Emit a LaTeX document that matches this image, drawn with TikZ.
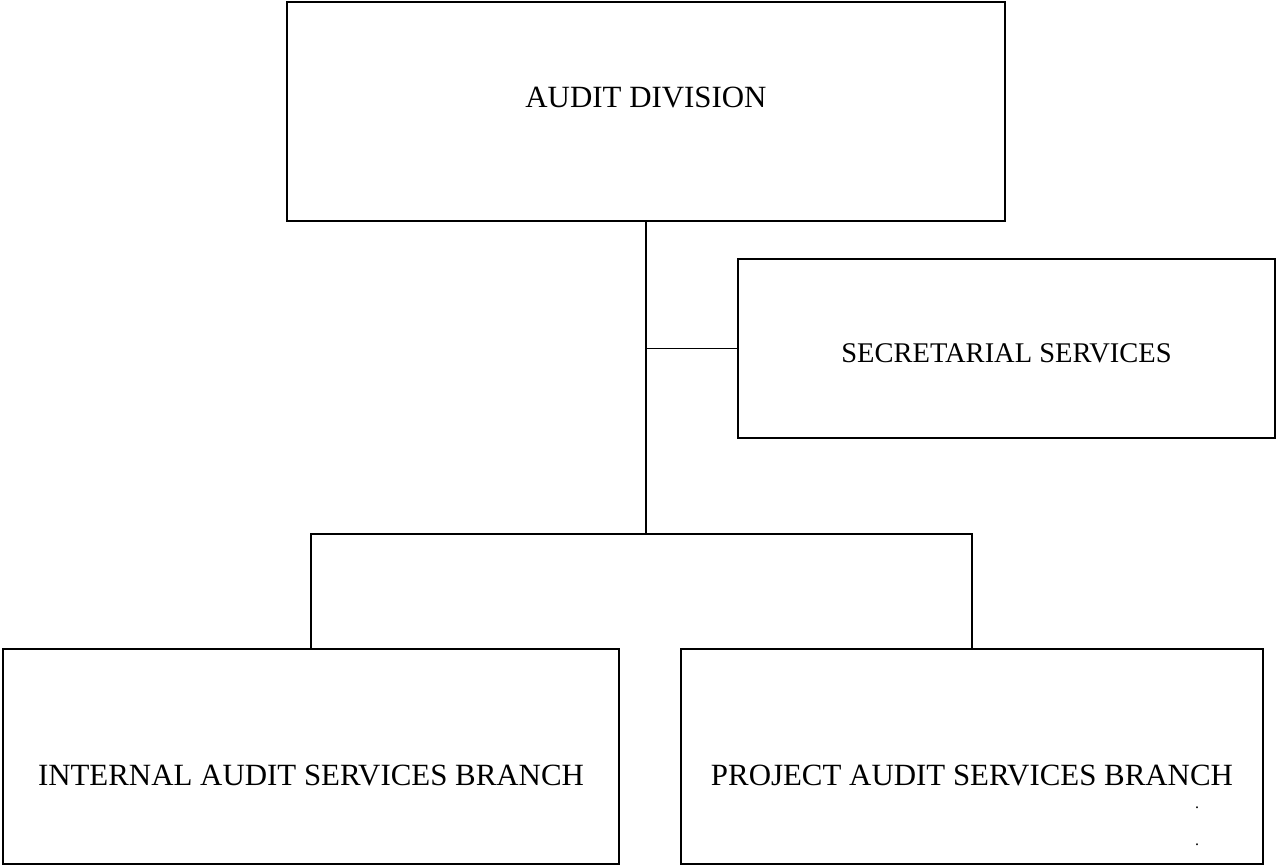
\documentclass[tikz,border=0pt]{standalone}
\usepackage{fontspec}
\setmainfont{Liberation Serif}
\begin{document}
\begin{tikzpicture}[x=1pt,y=-1pt,
  box/.style={draw, line width=1.6pt, inner sep=0pt, anchor=center},
  big/.style={font=\fontsize{30.9}{36}\selectfont},
  mid/.style={font=\fontsize{28.5}{34}\selectfont},
  dot/.style={font=\fontsize{16}{18}\selectfont, inner sep=0pt},
  conn/.style={line width=1.6pt}]
\useasboundingbox (0,0) rectangle (1276,866);
\node[box, big, minimum width=718pt, minimum height=219pt] (audit) at (646,111.5) {\smash{\raisebox{3.5pt}{AUDIT DIVISION}}};
\node[box, mid, minimum width=537pt, minimum height=179pt] (secr) at (1006.5,348.5) {\smash{\raisebox{-13.5pt}{SECRETARIAL SERVICES}}};
\node[box, big, minimum width=616pt, minimum height=215pt] (internal) at (311,756.5) {\smash{\raisebox{-28.5pt}{INTERNAL AUDIT SERVICES BRANCH}}};
\node[box, big, minimum width=582pt, minimum height=215pt] (project) at (972,756.5) {\smash{\raisebox{-28.5pt}{PROJECT AUDIT SERVICES BRANCH}}};
\node[dot] (d1) at (1197,808) {.};
\node[dot] (d2) at (1197,845) {.};
\coordinate (bus) at (646,534);
\draw[conn] (audit.south) -- (bus);
\draw[conn] (audit.south |- secr.west) -- (secr.west);
\draw[conn] (internal.north) |- (bus) -| (project.north);
\end{tikzpicture}
\end{document}
